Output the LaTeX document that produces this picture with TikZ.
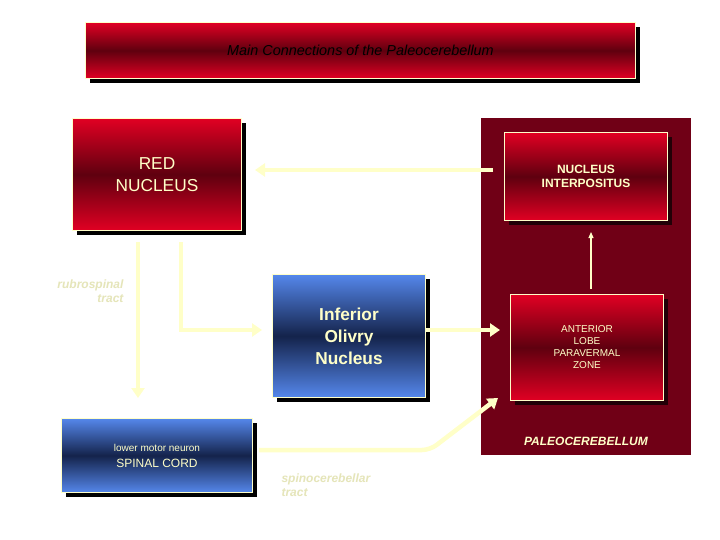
\documentclass[tikz,border=0pt]{standalone}
\usepackage{fontspec}
\setmainfont{Liberation Sans}
\usetikzlibrary{arrows.meta}
\definecolor{cream}{RGB}{255,255,200}
\definecolor{brick}{RGB}{225,0,35}
\definecolor{darkred}{RGB}{95,0,15}
\definecolor{panel}{RGB}{112,0,22}
\definecolor{sky}{RGB}{85,135,235}
\definecolor{navy}{RGB}{20,35,75}
\begin{document}
\begin{tikzpicture}[x=1pt,y=-1pt,
  box/.style={draw=cream,line width=1pt,inner sep=0pt,anchor=north west,
    text=cream,align=center,font=\bfseries},
  redbox/.style={box,top color=brick,bottom color=brick,middle color=darkred},
  bluebox/.style={box,top color=sky,bottom color=sky,middle color=navy},
  shadow/.style={fill=black},
  flow/.style={draw=cream,line width=4.5pt,-{Triangle[length=10pt,width=13pt]}},
  faint/.style={text=cream!80!gray,font=\itshape\bfseries}]
\useasboundingbox (0,0) rectangle (720,540);
\fill[white] (0,0) rectangle (720,540);
% shadows
\fill[shadow] (90,27) rectangle (640,83);
\fill[shadow] (77,123) rectangle (246,235);
\fill[shadow] (277,279) rectangle (430,402);
\fill[shadow] (66,423) rectangle (257,497);
% paleocerebellum panel
\fill[panel] (481,118) rectangle (691,455);
\fill[black!70!panel] (509,137) rectangle (672,225);
\fill[black!70!panel] (515,299) rectangle (668,405);
% boxes
\node[redbox,minimum width=550,minimum height=56,font=\itshape\Large,text=black] (title) at (85,22) {Main Connections of the Paleocerebellum};
\node[redbox,minimum width=169,minimum height=112,font=\LARGE] (red) at (72,118) {RED\\NUCLEUS};
\node[redbox,minimum width=163,minimum height=88,font=\large\bfseries] (ni) at (504,132) {NUCLEUS\\INTERPOSITUS};
\node[redbox,minimum width=153,minimum height=106,font=\normalsize] (alz) at (510,294) {ANTERIOR\\LOBE\\PARAVERMAL\\ZONE};
\node[bluebox,minimum width=153,minimum height=123,font=\bfseries\LARGE] (io) at (272,274) {Inferior\\Olivry\\Nucleus};
\node[bluebox,minimum width=191,minimum height=74,font=\large] (sc) at (61,418) {{\normalsize lower motor neuron}\\[2pt]SPINAL CORD};
% labels
\node[faint,align=right,anchor=north east,font=\itshape\bfseries\large] (rub) at (127,276) {rubrospinal\\tract};
\node[faint,align=left,anchor=north west,font=\itshape\bfseries\large] (spc) at (278,470) {spinocerebellar\\tract};
\node[text=cream,font=\itshape\bfseries\large] (pal) at (586,441) {PALEOCEREBELLUM};
% coordinates
\coordinate (a1) at (138,242);
\coordinate (b1) at (181,242);
\coordinate (s1) at (259,450);
\coordinate (s2) at (430,450);
% connectors
\draw[flow] (ni.west|-0,170) ++(-11,0) -- (255,170);
\draw[flow] (a1) -- (138,398);
\draw[flow] (b1) |- (262,330);
\draw[flow] (io.east|-0,330) -- (500,330);
\draw[flow,rounded corners=8pt] (s1) -- (s2) -- (498,398);
\draw[cream,line width=1.2pt,-{Triangle[length=6pt,width=5pt]}] (alz.north-|591,0) ++(0,-5) -- (591,232);
\end{tikzpicture}
\end{document}
